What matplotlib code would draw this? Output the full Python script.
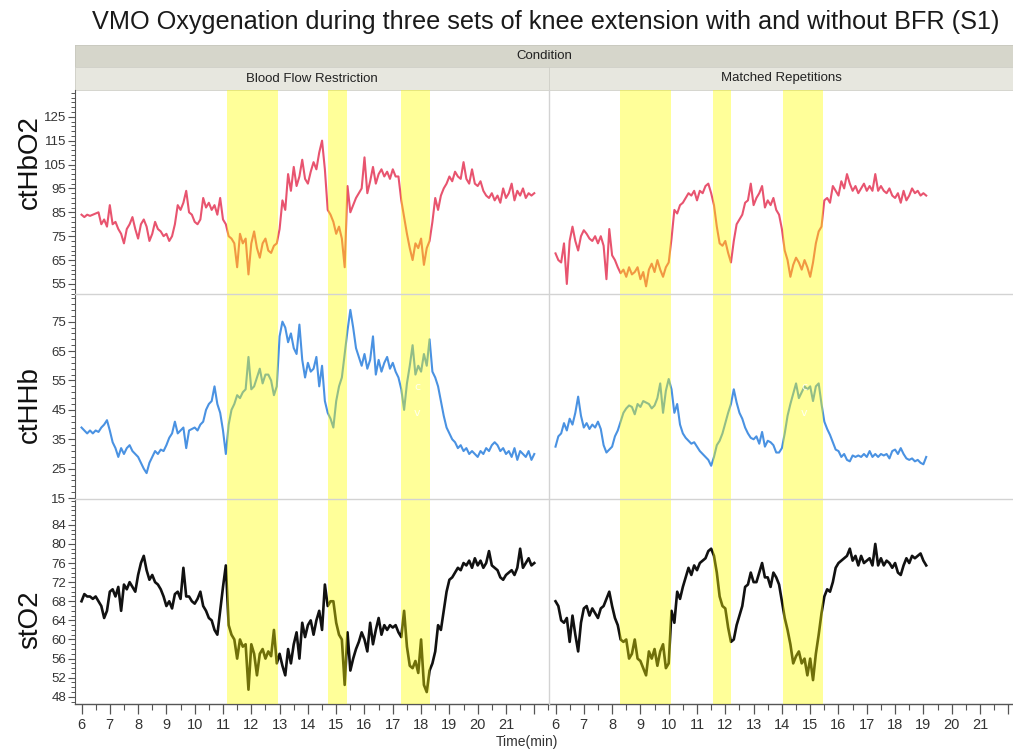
import numpy as np
import matplotlib
matplotlib.use("Agg")
import matplotlib.pyplot as plt
from matplotlib.lines import Line2D
from matplotlib.ticker import MultipleLocator, FixedLocator, NullFormatter

# ---------- data (sampled every 0.1 min starting at 6.0 min) ----------
T0, DT = 6.0, 0.1

bfr_hbo2 = [84, 83, 84, 83.5, 84, 84.5, 85, 80, 82, 79,
            88, 80, 81, 78, 76, 72, 78, 80, 83, 78,
            74, 80, 82, 79, 73, 76, 81, 78, 77, 75,
            76, 73, 75, 80, 88, 86, 89, 94, 85, 84,
            81, 80, 82, 91, 87, 89, 86, 88, 84, 91,
            82, 80, 75, 74, 72, 62, 76, 72, 74, 59,
            72, 77, 70, 66, 72, 74, 69, 68, 71, 72,
            78, 90, 86, 101, 94, 104, 96, 100, 107, 99,
            97, 102, 106, 103, 110, 115, 103, 86, 84, 81,
            76, 79, 74, 62, 96, 85, 88, 91, 93, 95,
            108, 93, 98, 104, 97, 101, 103, 100, 102, 99,
            103, 100, 100, 90, 83, 76, 70, 65, 72, 70,
            74, 63, 70, 73, 81, 91, 86, 92, 95, 97,
            100, 98, 102, 100, 99, 106, 99, 97, 103, 97,
            96, 98, 94, 92, 91, 93, 90, 92, 89, 95,
            91, 93, 97, 90, 94, 92, 95, 91, 93, 92,
            93]

bfr_hhb = [39, 38, 37, 38, 37, 38, 37.5, 39, 40, 41.5,
           38, 34, 32, 29, 32, 30, 32, 33, 31, 30,
           29, 27, 25, 23.5, 27, 29, 31, 30, 31.5, 31,
           33, 35.5, 37, 41, 37, 38, 39, 32, 38, 38.5,
           39, 38, 40, 41, 45, 47, 48, 53, 47, 44,
           38, 30, 40, 45, 47, 50, 49, 51, 52, 63,
           52, 53, 56, 59, 54, 57, 57, 55, 50, 53,
           70, 75, 73, 68, 71, 66, 64, 74, 62, 56,
           61, 58, 59, 63, 53, 60, 48, 44, 42, 39,
           48, 53, 56, 64, 72, 79, 73, 66, 63, 60,
           64, 59, 62, 70, 57, 62, 58, 61, 63, 59,
           61, 58, 56, 52, 45, 54, 60, 67, 57, 60,
           58, 64, 60, 69, 58, 56, 53, 48, 43, 39,
           37, 35, 34, 32, 33, 31, 32, 30, 31, 30,
           29, 31, 30, 32, 31, 33, 34, 33, 31, 32,
           30, 31, 29, 32, 28, 31, 30, 29, 31, 28,
           30]

bfr_sto2 = [68, 69.5, 69, 69, 68.5, 69, 68, 67, 64.5, 66,
            70, 70.5, 69, 71, 66, 71.5, 70.5, 72, 71, 70,
            73.5, 76, 77.5, 74.5, 72.5, 73.5, 72, 71.5, 70.5, 69,
            67, 68, 66.5, 69.5, 70, 68.5, 75, 69, 69, 68,
            67.5, 68.5, 70, 67, 66, 64.5, 64, 62, 61, 66,
            71, 75.5, 63, 61, 60, 56, 60, 58.5, 59, 49.5,
            59, 57, 52.5, 57, 58, 56, 57.5, 56.5, 62, 55,
            57, 54.5, 52.5, 58, 55, 59, 61.5, 56, 63.5, 60.5,
            63, 64, 61, 64, 66, 62, 71.5, 67, 68, 68,
            63.5, 61, 60, 50.5, 61.5, 53.5, 56, 58, 59.5, 61.5,
            60, 57.5, 63.5, 59, 62, 64.5, 61, 63, 62, 63,
            62.5, 63, 61.5, 60.5, 66, 58.5, 54.5, 54, 55.5, 53,
            60, 50.5, 49, 53.5, 55, 57.5, 63, 62, 66, 70,
            72.5, 73, 74, 75, 74.5, 76, 75.5, 76.5, 75, 77,
            75.5, 76.5, 75, 76, 78.5, 75.5, 75, 74.5, 73, 72.5,
            73.5, 74, 74.5, 73.5, 75, 79, 75, 76, 77, 75.5,
            76]

mr_hbo2 = [67.8, 65, 64, 72, 55, 73, 79, 73, 69, 75,
           77.5, 76, 74, 73, 75, 72, 75, 71, 57, 78,
           67, 65, 62, 59.5, 61, 58, 62, 59, 60, 62,
           57, 60, 54, 61, 63.5, 60, 65, 61, 58, 62,
           64, 74, 86, 84.5, 88, 89, 91, 93, 92, 94,
           90, 94, 93, 96, 97, 93, 88, 79, 72, 71,
           73, 68, 64, 73, 80, 82, 84, 89, 90, 97,
           88, 91, 93, 96, 87, 90, 88, 91, 86, 84,
           78, 69, 65, 58, 63, 66, 64, 61, 65, 62,
           58, 64, 72, 77, 79, 90, 91, 89, 96, 94,
           92, 98, 95, 101, 97, 94, 96, 93, 95, 97,
           94, 96, 94, 101, 94, 96, 94, 93, 95, 92,
           91, 93, 89, 94, 90, 92, 95, 93, 94, 92,
           93, 92]

mr_hhb = [32.5, 36, 37, 40.5, 38, 42, 40, 44, 49.5, 43,
          39, 40.5, 38.5, 40, 39, 41, 38.5, 33, 30.5, 31.5,
          32.5, 36, 38, 41, 44, 45.5, 46.5, 46, 43.5, 47,
          46, 48, 47.5, 47, 45.5, 46.5, 49, 54, 44, 51.5,
          55.5, 52, 44, 47, 40, 37, 35.5, 34.5, 33.5, 34,
          32.5, 31, 30, 29, 28, 26, 29, 33, 34.5, 37,
          40.5, 44, 47, 52, 47.5, 44, 42, 39, 37, 35.5,
          35, 36, 33.5, 37.5, 32.5, 34.5, 34, 33, 30.5, 30.5,
          32, 37, 43, 47, 50.5, 54, 49, 51, 53, 52,
          53, 48, 53, 54, 47, 41, 38.5, 36.5, 34, 31.5,
          31, 29, 30, 28, 27.5, 29.5, 29, 29.5, 29, 30,
          29, 31, 29, 30, 29, 30, 29.5, 30, 28.5, 31,
          31.5, 30, 32, 30, 28.5, 28, 28.5, 27.5, 28, 27,
          26.5, 29]

mr_sto2 = [68, 67, 64, 63.5, 64.5, 59.5, 65, 61, 57.5, 63.5,
           66.5, 67, 65, 66.5, 65.5, 64.5, 66.5, 67, 68.5, 70,
           67, 64.5, 63, 60, 59.5, 60, 56, 57, 60, 56,
           55.5, 54, 52.5, 57.5, 56, 58, 54.5, 57.5, 59, 54,
           55, 66, 63.5, 70, 68.5, 71, 73, 75, 73.5, 75.5,
           74.5, 76, 76.5, 77, 78.5, 79, 77.5, 74, 69, 67,
           66.5, 62.5, 59.5, 60, 63, 65, 67, 71, 71.5, 74,
           72, 72, 74, 76, 73, 73, 71, 74, 73, 71.5,
           68, 64.5, 62, 59, 55, 56.5, 57.5, 55, 56, 52.5,
           56, 51.5, 57, 61, 65.5, 69, 70.5, 70, 72, 75,
           76, 76.5, 77, 77.5, 79, 76.5, 77.5, 75.5, 77.5, 76,
           76.5, 77, 75.5, 80, 75.5, 77, 75.5, 76.5, 76, 75,
           76, 74, 73.5, 75.5, 77, 76, 77.5, 77, 77.5, 78,
           76.5, 75.5]

# exercise sets (start, end) in minutes
bfr_sets = [(11.15, 12.95), (14.72, 15.37), (17.30, 18.31)]
mr_sets = [(8.27, 10.07), (11.56, 12.19), (14.03, 15.47)]

conditions = ["Blood Flow Restriction", "Matched Repetitions"]
measures = ["ctHbO2", "ctHHb", "stO2"]
series = {
    ("ctHbO2", 0): bfr_hbo2, ("ctHHb", 0): bfr_hhb, ("stO2", 0): bfr_sto2,
    ("ctHbO2", 1): mr_hbo2, ("ctHHb", 1): mr_hhb, ("stO2", 1): mr_sto2,
}
sets = [bfr_sets, mr_sets]

line_colors = {"ctHbO2": "#e8546f", "ctHHb": "#4a92e2", "stO2": "#111111"}
line_widths = {"ctHbO2": 1.5, "ctHHb": 1.5, "stO2": 1.9}
ylims = {"ctHbO2": (50.8, 136.2), "ctHHb": (14.7, 84.4), "stO2": (46.5, 89.4)}
ymajor = {"ctHbO2": (55, 125, 10), "ctHHb": (15, 75, 10), "stO2": (48, 84, 4)}
yminor = {"ctHbO2": 2, "ctHHb": 2, "stO2": 1}

# ---------- layout (pixel based) ----------
W, H = 1013, 751
fig = plt.figure(figsize=(W / 100, H / 100), dpi=100)
fig.patch.set_facecolor("white")

narrow = ["Liberation Sans Narrow", "Liberation Sans", "DejaVu Sans"]
sans = ["Liberation Sans", "DejaVu Sans"]


def rect(x0, y0, x1, y1):
    return [x0 / W, 1 - y1 / H, (x1 - x0) / W, (y1 - y0) / H]


col_x = [(75, 549), (549, 1023)]
row_y = [(90, 294), (294, 499), (499, 704)]
grid_c = "#d3d3d3"
axis_c = "#555555"

fig.text(546 / W, 1 - 22 / H,
         "VMO Oxygenation during three sets of knee extension with and without BFR (S1)",
         ha="center", va="center", fontsize=18.2, family=sans, color="#1a1a1a")

# header strips
hdr = fig.add_axes(rect(75, 45, 1013, 67))
hdr.set_facecolor("#d6d6cb")
hdr.set_xticks([]); hdr.set_yticks([])
for s in hdr.spines.values():
    s.set_color("#c8c8be"); s.set_linewidth(0.6)
hdr.text(0.5, 0.5, "Condition", transform=hdr.transAxes, ha="center",
         va="center", fontsize=9.5, family=narrow, color="#222222")
for c, (x0, x1) in enumerate(col_x):
    sub = fig.add_axes(rect(x0, 67, min(x1, 1013), 90))
    sub.set_facecolor("#e7e7df")
    sub.set_xticks([]); sub.set_yticks([])
    for s in sub.spines.values():
        s.set_color("#cfcfc6"); s.set_linewidth(0.6)
    sub.text(0.5, 0.5, conditions[c], transform=sub.transAxes, ha="center",
             va="center", fontsize=9.5, family=narrow, color="#222222")

# ---------- panels ----------
for r, m in enumerate(measures):
    for c in range(2):
        x0, x1 = col_x[c]
        y0, y1 = row_y[r]
        ax = fig.add_axes(rect(x0, y0, x1, y1))
        ax.set_facecolor("none")
        vals = np.asarray(series[(m, c)], dtype=float)
        t = T0 + DT * np.arange(len(vals))
        ax.plot(t, vals, color=line_colors[m], lw=line_widths[m], zorder=2,
                solid_joinstyle="round")
        for a, b in sets[c]:
            ax.axvspan(a, b, color=(1.0, 1.0, 0.0), alpha=0.4, lw=0, zorder=3)

        ax.set_xlim(5.77, 22.52)
        ax.set_ylim(*ylims[m])

        for s in ax.spines.values():
            s.set_visible(False)

        if c == 0:
            lo, hi, st = ymajor[m]
            ax.yaxis.set_major_locator(FixedLocator(np.arange(lo, hi + 1, st)))
            ax.yaxis.set_minor_locator(MultipleLocator(yminor[m], offset=lo % yminor[m]))
            ax.spines["left"].set_visible(True)
            ax.spines["left"].set_color(axis_c)
            ax.tick_params(axis="y", which="major", direction="out", length=5,
                           width=0.8, color=axis_c, labelsize=9.5, pad=1.5,
                           labelcolor="#333333")
            ax.tick_params(axis="y", which="minor", direction="out", length=3,
                           width=0.7, color=axis_c)
            for lab in ax.get_yticklabels():
                lab.set_family(narrow)
        else:
            ax.set_yticks([])

        if r == 2:
            ax.spines["bottom"].set_visible(True)
            ax.spines["bottom"].set_color(axis_c)
            ax.spines["bottom"].set_linewidth(1.0)
            ax.xaxis.set_major_locator(FixedLocator(np.arange(6, 23)))
            ax.xaxis.set_minor_locator(FixedLocator(np.arange(6.5, 23, 1.0)))
            ax.set_xticklabels([str(v) if v <= 21 else "" for v in range(6, 23)])
            ax.tick_params(axis="x", which="major", direction="out", length=7,
                           width=0.9, color=axis_c, labelsize=10.5, pad=3,
                           labelcolor="#333333")
            ax.tick_params(axis="x", which="minor", direction="out", length=4,
                           width=0.8, color=axis_c)
            for lab in ax.get_xticklabels():
                lab.set_family(narrow)
        else:
            ax.set_xticks([])
            ax.xaxis.set_minor_formatter(NullFormatter())

        if m == "ctHHb":
            # faint event marks inside the third set
            mx = 17.86 if c == 0 else 14.79
            ax.text(mx, 52.8, "c", color="white", fontsize=8, ha="center",
                    va="center", zorder=4, alpha=0.85)
            ax.text(mx, 43.8, "v", color="white", fontsize=8, ha="center",
                    va="center", zorder=4, alpha=0.85)

# light dividers between facet rows and columns
for yy in (294, 499):
    fig.add_artist(Line2D([75 / W, 1.0], [1 - yy / H, 1 - yy / H],
                          color=grid_c, lw=1.0, zorder=1))
fig.add_artist(Line2D([549 / W, 549 / W], [1 - 704 / H, 1 - 90 / H],
                      color=grid_c, lw=1.0, zorder=1))

# axis titles
for m, yc in zip(measures, (162, 405, 620)):
    fig.text(30 / W, 1 - yc / H, m, rotation=90, ha="center", va="center",
             fontsize=20, family=sans, color="#111111")
fig.text(527 / W, 1 - 742 / H, "Time(min)", ha="center", va="center",
         fontsize=10, family=narrow, color="#333333")

fig.savefig("out.png", dpi=100)
